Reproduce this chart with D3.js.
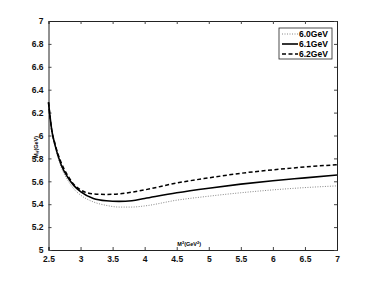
<!DOCTYPE html>
<html>
<head>
<meta charset="utf-8">
<script src="https://cdn.jsdelivr.net/npm/d3@7"></script>
<style>
  body { margin: 0; background: #fff; }
  text { font-family: "Liberation Sans", Arial, sans-serif; }
</style>
</head>
<body>
<div id="chart"></div>
<script>
// Borel parameter M^2 (GeV^2)
var borelM2 = [2.5, 2.55, 2.6, 2.7, 2.8, 2.9, 3.0, 3.2, 3.4, 3.6, 3.8, 4.0, 4.5, 5.0, 5.5, 6.0, 6.5, 7.0];

// mass curves for each threshold
var mass60 = [6.28, 6.04, 5.91, 5.72, 5.61, 5.53, 5.48, 5.42, 5.39, 5.375, 5.375, 5.385, 5.435, 5.47, 5.50, 5.525, 5.545, 5.56];
var mass61 = [6.29, 6.05, 5.92, 5.74, 5.635, 5.56, 5.51, 5.45, 5.43, 5.425, 5.43, 5.45, 5.50, 5.54, 5.575, 5.605, 5.63, 5.655];
var mass62 = [6.29, 6.05, 5.93, 5.76, 5.65, 5.57, 5.525, 5.49, 5.485, 5.49, 5.505, 5.525, 5.585, 5.63, 5.67, 5.70, 5.725, 5.745];

var seriesNames = ["6.0GeV", "6.1GeV", "6.2GeV"];
var xTicks = [2.5, 3, 3.5, 4, 4.5, 5, 5.5, 6, 6.5, 7];
var yTicks = [5, 5.2, 5.4, 5.6, 5.8, 6, 6.2, 6.4, 6.6, 6.8, 7];

var svgWidth = 373;
var svgHeight = 282;
var margin = { top: 21, right: 36, bottom: 32, left: 48.5 };
var width = svgWidth - margin.left - margin.right;
var height = svgHeight - margin.top - margin.bottom;

var svg = d3.select("#chart")
  .append("svg")
  .attr("width", svgWidth)
  .attr("height", svgHeight);

var g = svg.append("g")
  .attr("transform", `translate(${margin.left}, ${margin.top})`);

var x = d3.scaleLinear().domain([2.5, 7]).range([0, width]);
var y = d3.scaleLinear().domain([5, 7]).range([height, 0]);

// axes with inward ticks on all four sides
var fmt = d => d3.format("")(d);
var bottomAxis = d3.axisBottom(x).tickValues(xTicks).tickSize(-3).tickPadding(6).tickFormat(fmt);
var leftAxis = d3.axisLeft(y).tickValues(yTicks).tickSize(-3).tickPadding(5).tickFormat(fmt);
var topAxis = d3.axisTop(x).tickValues(xTicks).tickSize(-3).tickFormat("");
var rightAxis = d3.axisRight(y).tickValues(yTicks).tickSize(-3).tickFormat("");

function styleAxis(sel) {
  sel.selectAll("path").attr("stroke", "#222").attr("stroke-width", 1);
  sel.selectAll("line").attr("stroke", "#444");
  sel.selectAll("text")
    .attr("font-size", 8.5)
    .attr("font-weight", "bold")
    .attr("fill", "#111");
}

g.append("g").attr("transform", `translate(0, ${height})`).call(bottomAxis).call(styleAxis);
g.append("g").call(leftAxis).call(styleAxis);
g.append("g").call(topAxis).call(styleAxis);
g.append("g").attr("transform", `translate(${width}, 0)`).call(rightAxis).call(styleAxis);

var line = d3.line()
  .x((d, i) => x(borelM2[i]))
  .y(d => y(d))
  .curve(d3.curveMonotoneX);

var styles = [
  { data: mass60, stroke: "#888", width: 1, dash: "1,1.5" },
  { data: mass61, stroke: "#000", width: 1.6, dash: null },
  { data: mass62, stroke: "#000", width: 1.5, dash: "4,2.5" }
];

styles.forEach(function(s) {
  g.append("path")
    .datum(s.data)
    .attr("fill", "none")
    .attr("stroke", s.stroke)
    .attr("stroke-width", s.width)
    .attr("stroke-dasharray", s.dash)
    .attr("d", line);
});

// legend
var legend = g.append("g").attr("transform", `translate(${width - 58}, 7)`);
legend.append("rect")
  .attr("width", 53)
  .attr("height", 31)
  .attr("fill", "#fff")
  .attr("stroke", "#222")
  .attr("stroke-width", 0.8);

seriesNames.forEach(function(name, i) {
  var s = styles[i];
  var row = legend.append("g").attr("transform", `translate(0, ${6 + i * 10})`);
  row.append("line")
    .attr("x1", 3).attr("x2", 19)
    .attr("y1", 0).attr("y2", 0)
    .attr("stroke", s.stroke)
    .attr("stroke-width", s.width)
    .attr("stroke-dasharray", s.dash);
  row.append("text")
    .attr("x", 20)
    .attr("y", 3)
    .attr("font-size", 8.5)
    .attr("font-weight", "bold")
    .text(name);
});

// x axis label (inside the plot, above the axis)
var xl = g.append("text")
  .attr("x", x(4.51))
  .attr("y", height - 4)
  .attr("font-size", 5.5)
  .attr("font-weight", "bold");
xl.append("tspan").text("M");
xl.append("tspan").attr("font-size", 4).attr("dy", -2).text("2");
xl.append("tspan").attr("dy", 2).text("(GeV");
xl.append("tspan").attr("font-size", 4).attr("dy", -2).text("2");
xl.append("tspan").attr("dy", 2).text(")");

// y axis label
var yl = g.append("text")
  .attr("transform", `translate(${-11}, ${y(5.9)}) rotate(-90)`)
  .attr("text-anchor", "middle")
  .attr("font-size", 5.5)
  .attr("font-weight", "bold");
yl.append("tspan").text("M");
yl.append("tspan").attr("font-size", 4).attr("dy", 1.5).text("H");
yl.append("tspan").attr("dy", -1.5).text("(GeV)");
</script>
</body>
</html>
